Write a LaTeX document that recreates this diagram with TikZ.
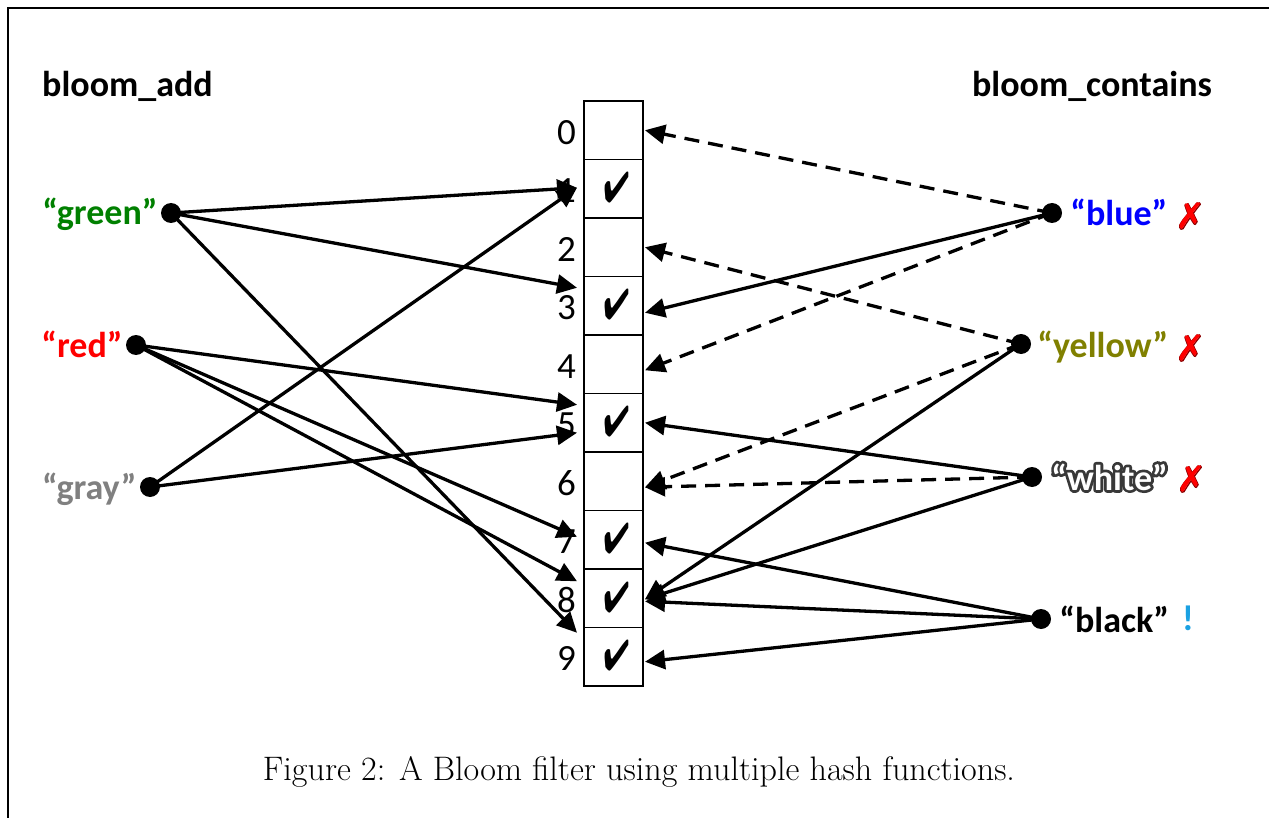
\documentclass[tikz,border=0pt]{standalone}
\usepackage{fontspec}
\usepackage{pifont}
\usepackage{graphicx}
\usetikzlibrary{arrows.meta}
\newfontfamily\calib{Carlito}
\newfontfamily\calibb{Carlito Bold}
\definecolor{cgreen}{RGB}{0,128,0}
\definecolor{cred}{RGB}{255,0,0}
\definecolor{cgray}{RGB}{128,128,128}
\definecolor{cblue}{RGB}{0,0,255}
\definecolor{colive}{RGB}{128,128,0}
\definecolor{cexcl}{RGB}{27,161,226}
\newcommand{\strokedtext}[3]{\rlap{\special{pdf:code 1 j 1 J #1 w #2 RG 1 Tr}#3\special{pdf:code 0 Tr}}#3}
\begin{document}
\begin{tikzpicture}[x=1pt,y=-1pt,
  cell/.style={draw, line width=1.5pt, minimum width=59pt, minimum height=58.5pt, inner sep=0pt, outer sep=0pt},
  dot/.style={circle, fill=black, minimum size=20pt, inner sep=0pt},
  conn/.style={line width=3.3pt, -{Triangle[length=20pt,width=19pt]}},
  probe/.style={conn, dash pattern=on 15pt off 9pt},
  word/.style={font=\calibb\fontsize{36}{36}\selectfont, inner sep=0pt},
  num/.style={font=\calib\fontsize{37}{37}\selectfont, inner sep=0pt, anchor=east},
  chk/.style={inner sep=0pt, font=\fontsize{36}{36}\selectfont},
  xm/.style={inner sep=0pt, font=\fontsize{36}{36}\selectfont, text=cred}]
\useasboundingbox (0,0) rectangle (1269,818);
\draw[line width=1.5pt] (8,818) -- (8,8) -- (1269,8);
% headers
\node[word, anchor=base west] (hadd) at (42,97) {bloom\_add};
\node[word, anchor=base east] (hcont) at (1212,97) {bloom\_contains};
% filter cells
\foreach \i in {0,...,9} {
  \node[cell] (c\i) at (613.5, 130.25+58.5*\i) {};
  \node[num] (n\i) at ([shift={(-8,2)}]c\i.west) {\i};
}
\foreach \i in {1,3,5,7,8,9}
  \node[chk] (k\i) at ([shift={(3,-1)}]c\i.center) {\scalebox{0.85}[1.2]{\ding{52}}};
% left items
\node[dot] (green) at (171,213) {};
\node[dot] (red) at (136,345) {};
\node[dot] (gray) at (150,487) {};
\node[word, text=cgreen, anchor=base east] (lgreen) at ([shift={(-3,12)}]green.west) {“green”};
\node[word, text=cred, anchor=base east] (lred) at ([shift={(-3,12)}]red.west) {“red”};
\node[word, text=cgray, anchor=base east] (lgray) at ([shift={(-3,12)}]gray.west) {“gray”};
% right items
\node[dot] (blue) at (1052,213) {};
\node[dot] (yellow) at (1021,344) {};
\node[dot] (white) at (1032,477) {};
\node[dot] (black) at (1041,619) {};
\node[word, text=cblue, anchor=base west] (lblue) at ([shift={(8,13)}]blue.east) {“blue”};
\node[word, text=colive, anchor=base west] (lyellow) at ([shift={(6,13)}]yellow.east) {“yellow”};
\node[word, text=white, anchor=base west] (lwhite) at ([shift={(9,13)}]white.east) {\strokedtext{5.5}{0.22 0.22 0.22}{“white”}};
\node[word, text=black, anchor=base west] (lblack) at ([shift={(8,13)}]black.east) {“black”};
\node[xm] (xblue) at (1190,216) {\strokedtext{1.4}{0.55 0 0}{\ding{55}}};
\node[xm] (xyellow) at (1190,348) {\strokedtext{1.4}{0.55 0 0}{\ding{55}}};
\node[xm] (xwhite) at (1191,479) {\strokedtext{1.4}{0.55 0 0}{\ding{55}}};
\node[word, text=cexcl] (xblack) at (1188,618) {!};
% bloom_add arrows
\draw[conn] (green.center) -- ([shift={(-7,-1)}]c1.west);
\draw[conn] (green.center) -- ([shift={(-7,-18)}]c3.west);
\draw[conn] (green.center) -- ([shift={(-7,-24)}]c9.west);
\draw[conn] (red.center) -- ([shift={(-7,-18)}]c5.west);
\draw[conn] (red.center) -- ([shift={(-7,-3)}]c7.west);
\draw[conn] (red.center) -- ([shift={(-7,-17)}]c8.west);
\draw[conn] (gray.center) -- ([shift={(-7,-1)}]c1.west);
\draw[conn] (gray.center) -- ([shift={(-7,10)}]c5.west);
% bloom_contains arrows
\draw[probe] (blue.center) -- ([shift={(2,0)}]c0.east);
\draw[conn] (blue.center) -- ([shift={(2,7)}]c3.east);
\draw[probe] (blue.center) -- ([shift={(2,6)}]c4.east);
\draw[probe] (yellow.center) -- ([shift={(2,0)}]c2.east);
\draw[probe] (yellow.center) -- ([shift={(2,6)}]c6.east);
\draw[conn] (yellow.center) -- ([shift={(2,1)}]c8.east);
\draw[conn] (white.center) -- ([shift={(2,0)}]c5.east);
\draw[probe] (white.center) -- ([shift={(2,6)}]c6.east);
\draw[conn] (white.center) -- ([shift={(2,1)}]c8.east);
\draw[conn] (black.center) -- ([shift={(2,3)}]c7.east);
\draw[conn] (black.center) -- ([shift={(2,3)}]c8.east);
\draw[conn] (black.center) -- ([shift={(2,5)}]c9.east);
% caption
\node (cap) at (639,772) {\resizebox{752pt}{\height}{\fontsize{34}{40}\selectfont Figure 2: A Bloom filter using multiple hash functions.}};
\end{tikzpicture}
\end{document}
